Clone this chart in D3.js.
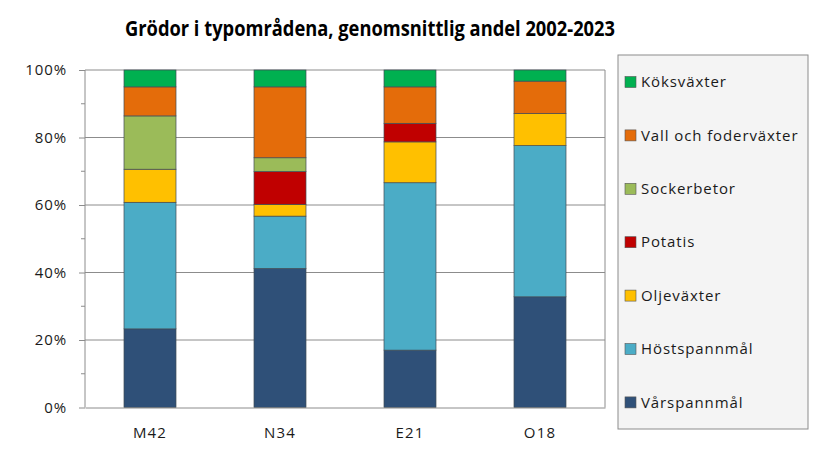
<!DOCTYPE html>
<html>
<head>
<meta charset="utf-8">
<script src="https://cdn.jsdelivr.net/npm/d3@7"></script>
<style>
  body { margin: 0; background: #fff; }
  text { font-family: "Open Sans", "Liberation Sans", sans-serif; fill: #1a1a1a; }
</style>
</head>
<body>
<div id="chart"></div>
<script>
// data (percent of area)
var areas = ["M42", "N34", "E21", "O18"];
var crops = ["Vårspannmål", "Höstspannmål", "Oljeväxter", "Potatis", "Sockerbetor", "Vall och foderväxter", "Köksväxter"];
var varspannmal = [23.3, 41.2, 17.0, 32.8];
var hostspannmal = [37.5, 15.5, 49.6, 44.8];
var oljevaxter = [9.8, 3.5, 12.1, 9.5];
var potatis = [0, 9.7, 5.5, 0];
var sockerbetor = [15.8, 4.1, 0, 0];
var vall = [8.6, 21.0, 10.8, 9.6];
var koksvaxter = [5.0, 5.0, 5.0, 3.3];
var yTicks = [0, 20, 40, 60, 80, 100];
var colors = ["#2f5078", "#4bacc6", "#ffc000", "#c00000", "#9bbb59", "#e46c0a", "#00b050"];

var W = 821, H = 462;
var margin = {top: 70, right: 216, bottom: 55, left: 85};
var width = W - margin.left - margin.right,
    height = 407.5 - margin.top;

var svg = d3.select("#chart").append("svg")
    .attr("width", W)
    .attr("height", H);

// title
svg.append("text")
    .attr("x", 370).attr("y", 36)
    .attr("text-anchor", "middle")
    .attr("textLength", 490)
    .attr("lengthAdjust", "spacingAndGlyphs")
    .style("font-size", "21px")
    .style("font-weight", "bold")
    .style("fill", "#000")
    .text("Grödor i typområdena, genomsnittlig andel 2002-2023");

var g = svg.append("g")
    .attr("transform", "translate(" + margin.left + "," + margin.top + ")");

var x = d3.scaleBand().domain(areas).range([0, width]).paddingInner(0.6).paddingOuter(0.3);
var y = d3.scaleLinear().domain([0, 100]).range([height, 0]);

// gridlines + plot border
g.append("g")
    .selectAll("line")
    .data(yTicks.slice(1))
    .enter().append("line")
    .attr("x1", 0).attr("x2", width)
    .attr("y1", function(d) { return y(d); })
    .attr("y2", function(d) { return y(d); })
    .attr("stroke", "#8c8c8c");
g.append("line")
    .attr("x1", width).attr("x2", width)
    .attr("y1", 0).attr("y2", height)
    .attr("stroke", "#8c8c8c");

// stack
var series = [varspannmal, hostspannmal, oljevaxter, potatis, sockerbetor, vall, koksvaxter];
var rows = areas.map(function(a, i) {
    var r = {area: a};
    crops.forEach(function(c, j) { r[c] = series[j][i]; });
    return r;
});
var stack = d3.stack().keys(crops)(rows);

g.selectAll("g.layer")
    .data(stack)
    .enter().append("g")
    .attr("class", "layer")
    .attr("fill", function(d, i) { return colors[i]; })
    .selectAll("rect")
    .data(function(d) { return d.filter(function(p) { return p[1] - p[0] > 0; }); })
    .enter().append("rect")
    .attr("x", function(d) { return x(d.data.area); })
    .attr("width", x.bandwidth())
    .attr("y", function(d) { return y(d[1]); })
    .attr("height", function(d) { return y(d[0]) - y(d[1]); })
    .attr("stroke", "#3f4a55")
    .attr("stroke-width", 0.7);

// y axis with minor ticks
var yAxis = g.append("g")
    .call(d3.axisLeft(y).tickValues(yTicks).tickSize(6).tickPadding(12)
        .tickFormat(function(d) { return d + "%"; }));
yAxis.select(".domain").attr("stroke", "#8c8c8c").attr("d", "M0,0V" + height);
yAxis.selectAll(".tick line").attr("stroke", "#8c8c8c");
yAxis.selectAll(".tick text").style("font-size", "15px").style("letter-spacing", "0.9px").style("fill", "#1a1a1a");
g.append("g")
    .selectAll("line")
    .data(d3.range(10, 100, 20))
    .enter().append("line")
    .attr("x1", -4).attr("x2", 0)
    .attr("y1", function(d) { return y(d); })
    .attr("y2", function(d) { return y(d); })
    .attr("stroke", "#8c8c8c");

// x axis
var xAxis = g.append("g")
    .attr("transform", "translate(0," + height + ")")
    .call(d3.axisBottom(x).tickSize(0).tickPadding(20));
xAxis.select(".domain").attr("stroke", "#8c8c8c");
xAxis.selectAll(".tick text").style("font-size", "15px").style("letter-spacing", "1.2px").style("fill", "#1a1a1a");

// legend
var leg = svg.append("g").attr("transform", "translate(618,55)");
leg.append("rect")
    .attr("width", 190).attr("height", 374)
    .attr("fill", "#f4f4f4")
    .attr("stroke", "#8c8c8c");
var legOrder = crops.map(function(c, i) { return i; }).reverse();
var item = leg.selectAll("g.item")
    .data(legOrder)
    .enter().append("g")
    .attr("class", "item")
    .attr("transform", function(d, k) { return "translate(7," + (27 + k * 53.4) + ")"; });
item.append("rect")
    .attr("x", 0).attr("y", -5.5)
    .attr("width", 11).attr("height", 11)
    .attr("fill", function(d) { return colors[d]; })
    .attr("stroke", "#555").attr("stroke-width", 0.6);
item.append("text")
    .attr("x", 16).attr("dy", "0.35em")
    .style("font-size", "15px")
    .style("letter-spacing", "0.9px")
    .text(function(d) { return crops[d]; });
</script>
</body>
</html>
